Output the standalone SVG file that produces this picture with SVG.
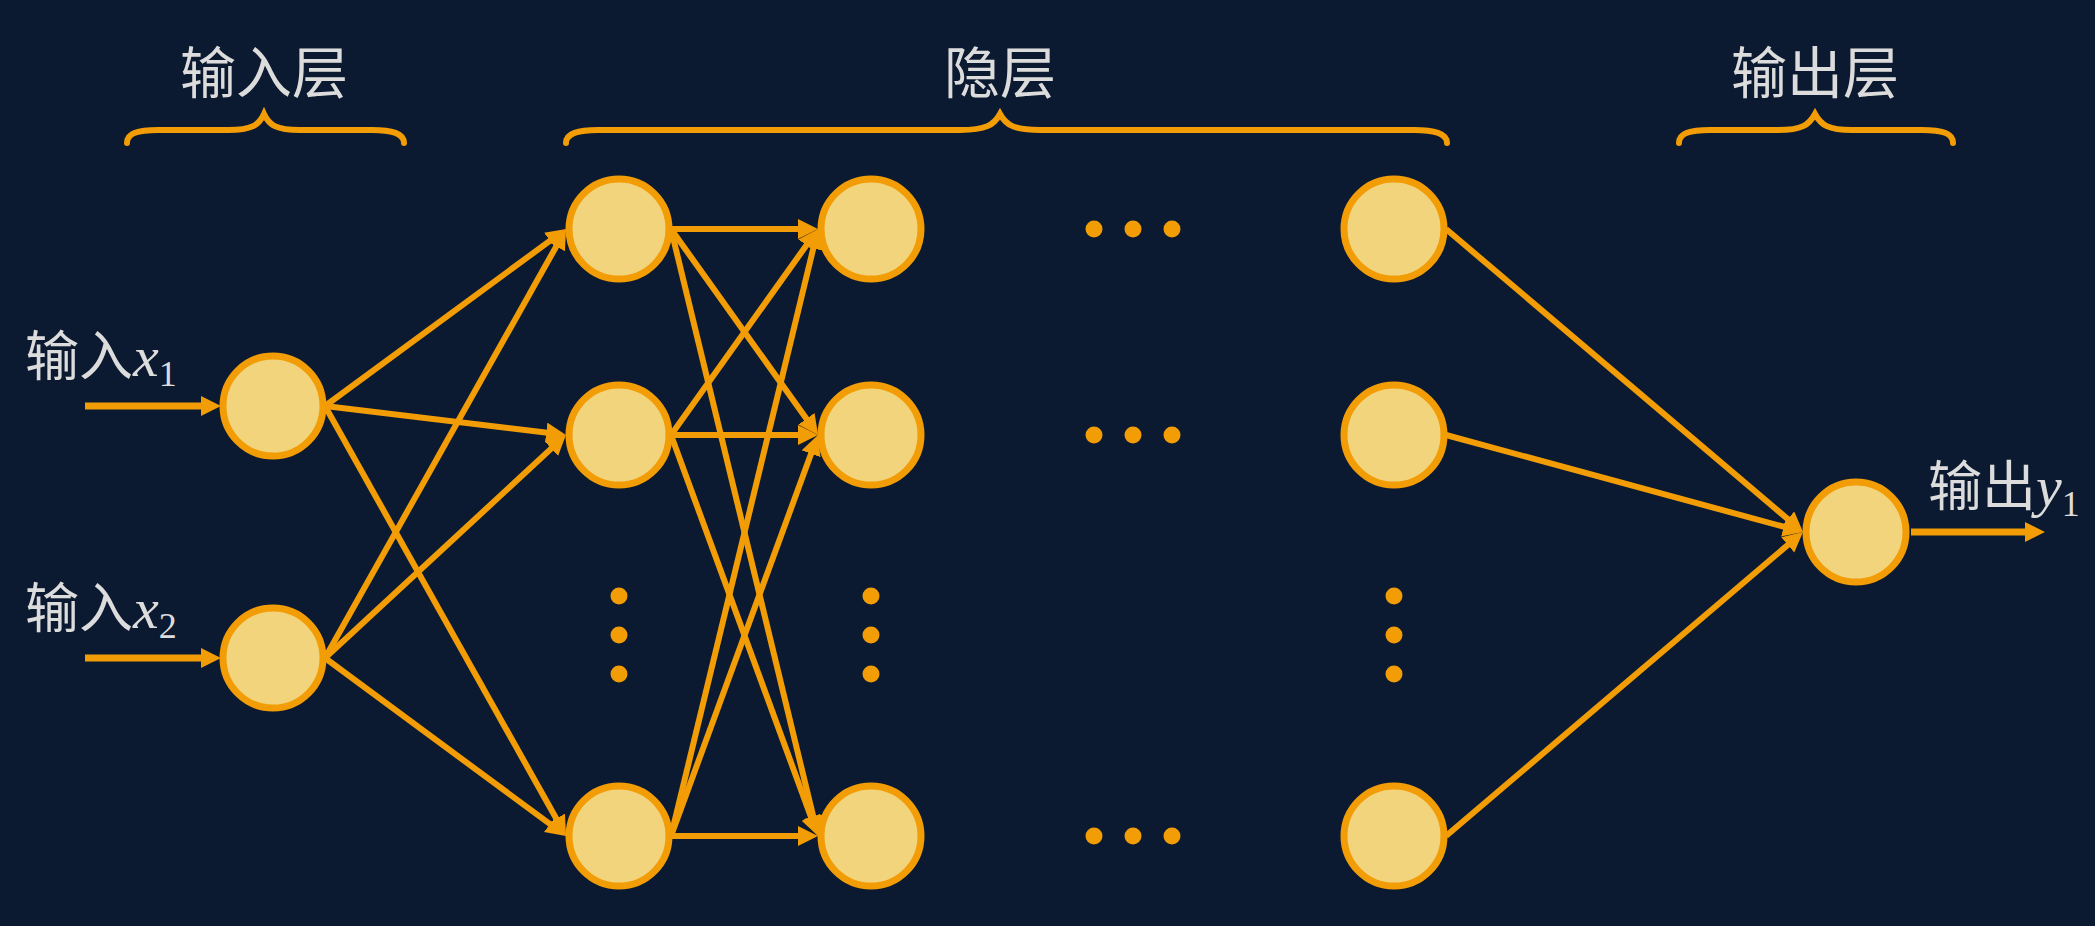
<svg xmlns="http://www.w3.org/2000/svg" width="2095" height="926" viewBox="0 0 2095 926">
<style>
.bg{fill:#0b1a30}
.node{fill:#f2d47c;stroke:#f29c06;stroke-width:7}
.edge{stroke:#f29c06;stroke-width:6;fill:none;marker-end:url(#ah)}
.in{stroke:#f29c06;stroke-width:7;fill:none;marker-end:url(#ah)}
.brace{stroke:#f29c06;stroke-width:6;fill:none;stroke-linecap:round}
.dot{fill:#f29c06}
.t{fill:#dcdcdc;font-family:"Noto Sans CJK SC","Noto Sans",sans-serif}
.v{font-family:"Liberation Serif",serif;font-style:italic}
.s{font-family:"Liberation Serif",serif}
</style>
<defs>
<marker id="ah" markerUnits="userSpaceOnUse" markerWidth="22" markerHeight="22" refX="12" refY="10" orient="auto">
<path d="M0,0 L20,10 L0,20 z" fill="#f29c06"/>
</marker>
</defs>
<rect class="bg" x="0" y="0" width="2095" height="926"/>

<g id="titles">
<text class="t" x="264" y="93" font-size="56" text-anchor="middle">输入层</text>
<text class="t" x="1000" y="93" font-size="56" text-anchor="middle">隐层</text>
<text class="t" x="1815" y="93" font-size="56" text-anchor="middle">输出层</text>
<path class="brace" d="M127,143 C127,133 138,130 158,130 L228,130 C252,130 259,125 264,114 C269,125 276,130 300,130 L372,130 C392,130 404,133 404,143"/>
<path class="brace" d="M566,143 C566,133 578,130 598,130 L960,130 C986,130 994,125 1000,114 C1006,125 1014,130 1040,130 L1414,130 C1434,130 1447,133 1447,143"/>
<path class="brace" d="M1679,143 C1679,133 1690,130 1710,130 L1778,130 C1802,130 1809,125 1815,114 C1821,125 1828,130 1852,130 L1922,130 C1942,130 1953,133 1953,143"/>
</g>

<g id="connectors">
<line class="in" x1="85" y1="406" x2="213" y2="406"/>
<line class="in" x1="85" y1="658" x2="213" y2="658"/>
<line class="edge" x1="325" y1="406" x2="559.6" y2="233.7"/>
<line class="edge" x1="325" y1="406" x2="558.1" y2="434"/>
<line class="edge" x1="325" y1="406" x2="562.1" y2="829"/>
<line class="edge" x1="325" y1="658" x2="562.1" y2="236"/>
<line class="edge" x1="325" y1="658" x2="560.1" y2="440.4"/>
<line class="edge" x1="325" y1="658" x2="559.6" y2="831.2"/>
<line class="edge" x1="671" y1="229" x2="810" y2="229"/>
<line class="edge" x1="671" y1="229" x2="813.4" y2="428.5"/>
<line class="edge" x1="671" y1="229" x2="816.1" y2="828.2"/>
<line class="edge" x1="671" y1="435" x2="813.4" y2="235.5"/>
<line class="edge" x1="671" y1="435" x2="810" y2="435"/>
<line class="edge" x1="671" y1="435" x2="815.2" y2="828.5"/>
<line class="edge" x1="671" y1="836" x2="816.1" y2="236.8"/>
<line class="edge" x1="671" y1="836" x2="815.2" y2="442.5"/>
<line class="edge" x1="671" y1="836" x2="810" y2="836"/>
<line class="edge" x1="1446" y1="229" x2="1796.9" y2="526.8"/>
<line class="edge" x1="1446" y1="435" x2="1795.3" y2="529.9"/>
<line class="edge" x1="1446" y1="836" x2="1796.9" y2="537.2"/>
<line class="in" x1="1911" y1="532" x2="2037" y2="532"/>
</g>

<g id="in1"><circle class="node" cx="273" cy="406" r="50"/></g>
<g id="in2"><circle class="node" cx="273" cy="658" r="50"/></g>
<g id="h1a"><circle class="node" cx="619" cy="229" r="50"/></g>
<g id="h1b"><circle class="node" cx="619" cy="435" r="50"/></g>
<g id="h1c"><circle class="node" cx="619" cy="836" r="50"/></g>
<g id="h2a"><circle class="node" cx="871" cy="229" r="50"/></g>
<g id="h2b"><circle class="node" cx="871" cy="435" r="50"/></g>
<g id="h2c"><circle class="node" cx="871" cy="836" r="50"/></g>
<g id="h3a"><circle class="node" cx="1394" cy="229" r="50"/></g>
<g id="h3b"><circle class="node" cx="1394" cy="435" r="50"/></g>
<g id="h3c"><circle class="node" cx="1394" cy="836" r="50"/></g>
<g id="out"><circle class="node" cx="1856" cy="532" r="50"/></g>

<g id="dots">
<circle class="dot" cx="1094" cy="229" r="8.5"/><circle class="dot" cx="1133" cy="229" r="8.5"/><circle class="dot" cx="1172" cy="229" r="8.5"/>
<circle class="dot" cx="1094" cy="435" r="8.5"/><circle class="dot" cx="1133" cy="435" r="8.5"/><circle class="dot" cx="1172" cy="435" r="8.5"/>
<circle class="dot" cx="1094" cy="836" r="8.5"/><circle class="dot" cx="1133" cy="836" r="8.5"/><circle class="dot" cx="1172" cy="836" r="8.5"/>
<circle class="dot" cx="619" cy="596" r="8.5"/><circle class="dot" cx="619" cy="635" r="8.5"/><circle class="dot" cx="619" cy="674" r="8.5"/>
<circle class="dot" cx="871" cy="596" r="8.5"/><circle class="dot" cx="871" cy="635" r="8.5"/><circle class="dot" cx="871" cy="674" r="8.5"/>
<circle class="dot" cx="1394" cy="596" r="8.5"/><circle class="dot" cx="1394" cy="635" r="8.5"/><circle class="dot" cx="1394" cy="674" r="8.5"/>
</g>

<g id="labels">
<text class="t" x="25" y="376" font-size="54">输入<tspan class="v" font-size="58">x</tspan><tspan class="s" font-size="36" dy="10">1</tspan></text>
<text class="t" x="25" y="628" font-size="54">输入<tspan class="v" font-size="58">x</tspan><tspan class="s" font-size="36" dy="10">2</tspan></text>
<text class="t" x="1928" y="506" font-size="54">输出<tspan class="v" font-size="58">y</tspan><tspan class="s" font-size="36" dy="10">1</tspan></text>
</g>
</svg>
